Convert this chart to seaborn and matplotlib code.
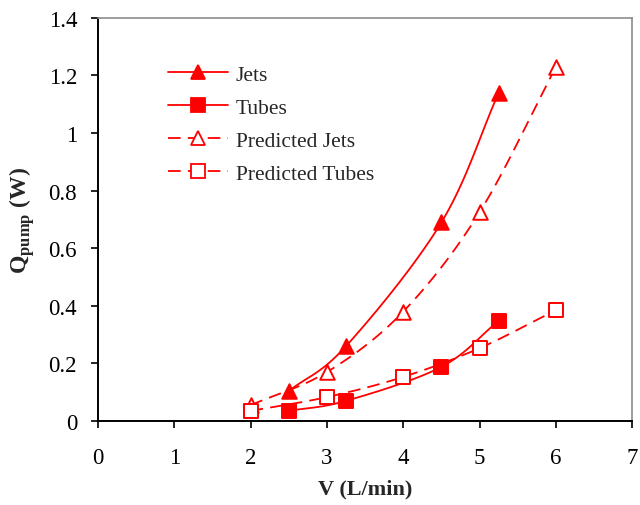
import numpy as np
import pandas as pd
import matplotlib
matplotlib.use("Agg")
import matplotlib.pyplot as plt
import seaborn as sns

# Measured and predicted pumping power versus flow rate
jets_v = [2.5, 3.25, 4.5, 5.25]
jets_q = [0.104, 0.26, 0.69, 1.14]
tubes_v = [2.5, 3.25, 4.5, 5.25]
tubes_q = [0.035, 0.07, 0.188, 0.348]
pred_jets_v = [2, 3, 4, 5, 6]
pred_jets_q = [0.055, 0.17, 0.38, 0.725, 1.23]
pred_tubes_v = [2, 3, 4, 5, 6]
pred_tubes_q = [0.035, 0.083, 0.153, 0.253, 0.385]

x_ticks = [0, 1, 2, 3, 4, 5, 6, 7]
y_ticks = [0, 0.2, 0.4, 0.6, 0.8, 1.0, 1.2, 1.4]
y_tick_labels = ["0", "0.2", "0.4", "0.6", "0.8", "1", "1.2", "1.4"]


def smooth(xs, ys, n=40):
    """Catmull-Rom style smoothed path through the given points."""
    p = np.column_stack([xs, ys]).astype(float)
    p = np.vstack([2 * p[0] - p[1], p, 2 * p[-1] - p[-2]])
    out = []
    for i in range(1, len(p) - 2):
        p0, p1, p2, p3 = p[i - 1], p[i], p[i + 1], p[i + 2]
        c1 = p1 + (p2 - p0) / 6.0
        c2 = p2 - (p3 - p1) / 6.0
        t = np.linspace(0, 1, n)[:, None]
        seg = ((1 - t) ** 3) * p1 + 3 * ((1 - t) ** 2) * t * c1 + 3 * (1 - t) * t ** 2 * c2 + t ** 3 * p2
        out.append(seg if i == 1 else seg[1:])
    s = np.vstack(out)
    return s[:, 0], s[:, 1]


sns.set_theme(style="white")
plt.rcParams["font.family"] = ["Liberation Serif", "DejaVu Serif"]
plt.rcParams["mathtext.fontset"] = "custom"
plt.rcParams["mathtext.rm"] = "Liberation Serif"
plt.rcParams["mathtext.bf"] = "Liberation Serif:bold"

fig = plt.figure(figsize=(6.4, 5.06), dpi=100)
ax = fig.add_axes([0.153, 0.166, 0.835, 0.797])

red = "#ff0000"
dash = (0, (7, 4))
series = [
    ("Jets", jets_v, jets_q, "-", "^", red),
    ("Tubes", tubes_v, tubes_q, "-", "s", red),
    ("Predicted Jets", pred_jets_v, pred_jets_q, dash, "^", "white"),
    ("Predicted Tubes", pred_tubes_v, pred_tubes_q, dash, "s", "white"),
]

handles = []
for name, xv, yv, ls, mk, fc in series:
    sx, sy = smooth(xv, yv)
    sns.lineplot(x=sx, y=sy, ax=ax, color=red, linewidth=1.3, sort=False,
                 estimator=None)
    ax.lines[-1].set_linestyle(ls)
    sns.scatterplot(x=xv, y=yv, ax=ax, marker=mk, s=110 if mk == "^" else 100,
                    facecolor=fc, edgecolor=red, linewidth=1.4, zorder=5)
    h, = ax.plot([], [], color=red, linestyle=ls, linewidth=1.3, marker=mk,
                 markersize=10.5, markerfacecolor=fc, markeredgecolor=red,
                 markeredgewidth=1.3)
    handles.append((h, name))

ax.set_xlim(0, 7)
ax.set_ylim(0, 1.4)
ax.set_xticks(x_ticks)
ax.set_xticklabels([str(t) for t in x_ticks])
ax.set_yticks(y_ticks)
ax.set_yticklabels(y_tick_labels)
ax.tick_params(axis="both", which="both", direction="out", length=5, width=1.2,
               labelsize=16.5, colors="black", bottom=True, left=True)
ax.tick_params(axis="y", pad=10)
ax.tick_params(axis="x", pad=14)

for side in ("left", "bottom"):
    ax.spines[side].set_color("black")
    ax.spines[side].set_linewidth(1.4)
for side in ("top", "right"):
    ax.spines[side].set_color("#8c8c8c")
    ax.spines[side].set_linewidth(1.2)

ax.set_xlabel("V (L/min)", fontsize=16, fontweight="bold", labelpad=7)
ax.set_ylabel(r"Q$_{\mathbf{pump}}$ (W)", fontsize=17, fontweight="bold", labelpad=8)

leg = ax.legend([h for h, _ in handles], [n for _, n in handles],
                loc="upper left", bbox_to_anchor=(0.115, 0.905), frameon=False,
                fontsize=15.5, handlelength=2.8, handletextpad=0.35,
                labelspacing=0.6, borderaxespad=0)

fig.savefig("out.png", dpi=100, facecolor="white")
